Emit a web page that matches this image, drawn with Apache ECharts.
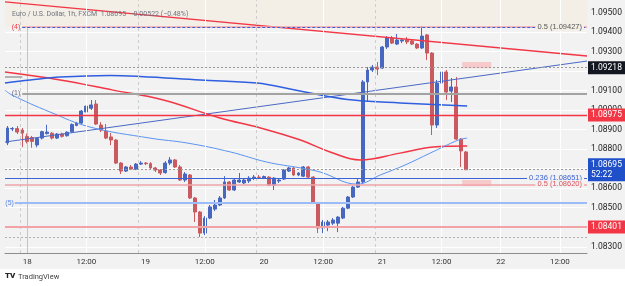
<!DOCTYPE html>
<html>
<head>
<meta charset="utf-8">
<script src="https://cdn.jsdelivr.net/npm/echarts@6/dist/echarts.min.js"></script>
<style>
  html, body { margin: 0; padding: 0; background: #fff; }
  #chart { width: 625px; height: 286px; }
</style>
</head>
<body>
<div id="chart"></div>
<script>
// hour 0 = 18th 00:00, first candle is hour -4
const firstHour = -4;
const lastAxisHour = 113;

// [open, close, low, high] per hour
const ohlc = [
  [1.08832, 1.08909, 1.08821, 1.08919], [1.08904, 1.08906, 1.08893, 1.08914],
  [1.08906, 1.08888, 1.08878, 1.08919], [1.08898, 1.08883, 1.08811, 1.08909],
  [1.08865, 1.08840, 1.08830, 1.08880], [1.08860, 1.08840, 1.08808, 1.08868],
  [1.08822, 1.08855, 1.08810, 1.08860], [1.08857, 1.08890, 1.08850, 1.08895],
  [1.08880, 1.08888, 1.08875, 1.08925], [1.08882, 1.08857, 1.08850, 1.08888],
  [1.08857, 1.08878, 1.08852, 1.08883], [1.08878, 1.08866, 1.08860, 1.08885],
  [1.08869, 1.08887, 1.08865, 1.08892], [1.08890, 1.08927, 1.08885, 1.08932],
  [1.08922, 1.08934, 1.08918, 1.08940], [1.08934, 1.08996, 1.08930, 1.09001],
  [1.08991, 1.09021, 1.08986, 1.09032], [1.09010, 1.09027, 1.09001, 1.09052],
  [1.09032, 1.08929, 1.08924, 1.09052], [1.08924, 1.08898, 1.08888, 1.08939],
  [1.08893, 1.08857, 1.08852, 1.08929], [1.08863, 1.08847, 1.08821, 1.08883],
  [1.08847, 1.08729, 1.08724, 1.08852], [1.08729, 1.08688, 1.08673, 1.08734],
  [1.08688, 1.08709, 1.08683, 1.08714], [1.08709, 1.08698, 1.08693, 1.08719],
  [1.08698, 1.08724, 1.08693, 1.08729], [1.08724, 1.08729, 1.08719, 1.08739],
  [1.08729, 1.08726, 1.08719, 1.08734], [1.08726, 1.08704, 1.08698, 1.08734],
  [1.08704, 1.08693, 1.08683, 1.08709], [1.08693, 1.08678, 1.08668, 1.08698],
  [1.08680, 1.08729, 1.08675, 1.08739], [1.08729, 1.08745, 1.08719, 1.08760],
  [1.08745, 1.08709, 1.08704, 1.08750], [1.08709, 1.08642, 1.08637, 1.08719],
  [1.08642, 1.08673, 1.08632, 1.08683], [1.08668, 1.08550, 1.08545, 1.08673],
  [1.08550, 1.08478, 1.08427, 1.08555], [1.08478, 1.08370, 1.08350, 1.08483],
  [1.08370, 1.08447, 1.08360, 1.08457], [1.08447, 1.08504, 1.08442, 1.08514],
  [1.08493, 1.08514, 1.08483, 1.08540], [1.08514, 1.08550, 1.08509, 1.08560],
  [1.08550, 1.08632, 1.08545, 1.08662], [1.08632, 1.08591, 1.08586, 1.08637],
  [1.08591, 1.08642, 1.08586, 1.08647], [1.08632, 1.08642, 1.08627, 1.08678],
  [1.08627, 1.08642, 1.08621, 1.08652], [1.08637, 1.08652, 1.08627, 1.08662],
  [1.08652, 1.08657, 1.08642, 1.08668], [1.08657, 1.08655, 1.08647, 1.08668],
  [1.08652, 1.08660, 1.08647, 1.08665], [1.08657, 1.08616, 1.08611, 1.08662],
  [1.08616, 1.08652, 1.08591, 1.08657], [1.08637, 1.08642, 1.08627, 1.08652],
  [1.08647, 1.08693, 1.08642, 1.08698], [1.08688, 1.08704, 1.08683, 1.08709],
  [1.08704, 1.08668, 1.08662, 1.08709], [1.08668, 1.08678, 1.08662, 1.08683],
  [1.08662, 1.08709, 1.08657, 1.08714], [1.08709, 1.08657, 1.08652, 1.08714],
  [1.08657, 1.08524, 1.08519, 1.08662], [1.08524, 1.08396, 1.08370, 1.08529],
  [1.08396, 1.08427, 1.08370, 1.08437], [1.08411, 1.08427, 1.08380, 1.08437],
  [1.08421, 1.08437, 1.08411, 1.08447], [1.08421, 1.08452, 1.08375, 1.08457],
  [1.08447, 1.08498, 1.08442, 1.08504], [1.08498, 1.08555, 1.08493, 1.08560],
  [1.08555, 1.08606, 1.08550, 1.08611], [1.08606, 1.08632, 1.08601, 1.08647],
  [1.08632, 1.09145, 1.08621, 1.09155], [1.09145, 1.09206, 1.09042, 1.09221],
  [1.09206, 1.09221, 1.09196, 1.09232], [1.09221, 1.09211, 1.09180, 1.09247],
  [1.09216, 1.09324, 1.09211, 1.09329], [1.09324, 1.09370, 1.09314, 1.09380],
  [1.09370, 1.09344, 1.09339, 1.09380], [1.09339, 1.09360, 1.09334, 1.09391],
  [1.09355, 1.09360, 1.09344, 1.09370], [1.09360, 1.09350, 1.09339, 1.09375],
  [1.09355, 1.09339, 1.09334, 1.09365], [1.09339, 1.09319, 1.09314, 1.09344],
  [1.09319, 1.09380, 1.09314, 1.09432], [1.09386, 1.09293, 1.09257, 1.09391],
  [1.09293, 1.08924, 1.08873, 1.09298], [1.08924, 1.09139, 1.08909, 1.09155],
  [1.09139, 1.09196, 1.09129, 1.09237], [1.09196, 1.09093, 1.09052, 1.09206],
  [1.09098, 1.09119, 1.09042, 1.09165], [1.09119, 1.08852, 1.08847, 1.09170],
  [1.08852, 1.08791, 1.08709, 1.08857], [1.08786, 1.08695, 1.08693, 1.08791]
];

// time axis labels
const tickHours = [0, 12, 24, 36, 48, 60, 72, 84, 96, 108];
const tickLabels = ['18', '12:00', '19', '12:00', '20', '12:00', '21', '12:00', '22', '12:00'];
const sessionHours = [-1.5, 22.5, 46.5, 70.5];

// moving averages [hour, price]
const maRed = [[-4.5, 1.09196], [6.7, 1.09155], [17.4, 1.09103], [27.6, 1.09052], [39.1, 1.08960],
  [47.3, 1.08909], [55.4, 1.08847], [61.4, 1.08786], [67.5, 1.08745], [75.6, 1.08780],
  [82.3, 1.08811], [89.2, 1.08816]];
const maBlue = [[-4.5, 1.09140], [0.6, 1.09155], [6.7, 1.09170], [16.8, 1.09178], [22.9, 1.09173],
  [35.1, 1.09155], [46.6, 1.09139], [53.3, 1.09109], [59.4, 1.09078], [66.1, 1.09052],
  [75.6, 1.09037], [89.2, 1.09021]];
const maLight = [[-4.5, 1.09103], [-3.1, 1.09078], [4.6, 1.08991], [12.7, 1.08914], [24.9, 1.08857],
  [32.4, 1.08832], [41.2, 1.08786], [48.6, 1.08734], [55.4, 1.08704], [59.4, 1.08683],
  [66.9, 1.08621], [71.6, 1.08668], [76.6, 1.08719], [81.7, 1.08780], [87.4, 1.08847], [89.2, 1.08857]];

// trend lines
const trendDown = [[-4.5, 1.09555], [113.5, 1.09278]];
const trendUp = [[-4.5, 1.08837], [113.5, 1.09252]];

// horizontal levels
const fibTop = 1.09427;
const highDash = 1.09218;
const grayLevel = 1.09086;
const grayStub = 1.09170;
const redLevel = 1.08975;
const lastPrice = 1.08695;
const fib236 = 1.08651;
const fib50 = 1.08620;
const blueLevel = 1.08524;
const lowLevel = 1.08401;
const lowDash = 1.08350;
const zoneA = [1.09216, 1.09247];
const zoneB = [1.08611, 1.08642];
const zoneHours = [88.2, 94.1];

const yMin = 1.08268, yMax = 1.09565;

const categories = [];
for (let h = firstHour; h <= lastAxisHour; h++) categories.push(String(h));

const chart = echarts.init(document.getElementById('chart'), null, { renderer: 'canvas' });

function box(text, bg) {
  return {
    show: true, position: 'end', distance: 1, formatter: text,
    backgroundColor: bg, color: '#fff', fontSize: 8.5, padding: [2, 4, 1, 3],
    fontFamily: 'Roboto, sans-serif', lineHeight: 10
  };
}
// full-width level from the left edge to the right edge of the plot
function level(v, color, width, type, label) {
  return [
    { coord: [-4.5, v], lineStyle: { color: color, width: width, type: type }, label: label || { show: false } },
    { coord: [113.5, v] }
  ];
}

const option = {
  animation: false,
  backgroundColor: '#ffffff',
  title: {
    text: 'Euro / U.S. Dollar, 1h, FXCM  1.08695  \u22120.00522 (\u22120.48%)',
    left: 7, top: 6,
    textStyle: { fontSize: 7, color: '#707380', fontWeight: 'normal', fontFamily: 'Roboto, sans-serif' }
  },
  graphic: [
    { type: 'rect', z: -10, silent: true, shape: { x: 0, y: 0, width: 625, height: 269 }, style: { fill: '#f2f2f2' } },
    { type: 'text', left: 5, top: 272, style: { text: 'TV', fontSize: 8, fontWeight: 900, fill: '#222', fontFamily: 'Roboto, sans-serif' } },
    { type: 'text', left: 18, top: 273, style: { text: 'TradingView', fontSize: 7.5, fill: '#444', fontFamily: 'Roboto, sans-serif' } }
  ],
  grid: { left: 5, right: 38, top: 0, bottom: 33, show: false },
  xAxis: [
    {
      type: 'category', data: categories, boundaryGap: true,
      axisLine: { show: true, lineStyle: { color: '#8c8c8c' } },
      axisTick: { show: false },
      splitLine: { show: false },
      axisLabel: {
        interval: (idx, val) => tickHours.indexOf(Number(val)) >= 0,
        formatter: (val) => tickLabels[tickHours.indexOf(Number(val))],
        fontSize: 8, color: '#333', margin: 5, fontFamily: 'Roboto, sans-serif'
      }
    },
    { type: 'value', min: -4.5, max: 113.5, show: false }
  ],
  yAxis: {
    type: 'value', position: 'right', scale: true,
    min: yMin, max: yMax, splitNumber: 13,
    axisLine: { show: true, lineStyle: { color: '#c4c4c4' } },
    axisTick: { show: false },
    splitLine: { lineStyle: { color: '#ffffff', width: 1 } },
    axisLabel: {
      formatter: (v) => v.toFixed(5), showMinLabel: false, showMaxLabel: false,
      fontSize: 8.5, color: '#222', margin: 4, fontFamily: 'Roboto, sans-serif'
    }
  },
  series: [
    {
      // background zones and vertical grid
      type: 'line', xAxisIndex: 1, data: [], z: 1, silent: true,
      markArea: {
        silent: true,
        data: [
          [{ yAxis: fibTop, itemStyle: { color: '#f3efe6' } }, { yAxis: yMax }],
          [{ coord: [zoneHours[0], zoneA[0]], itemStyle: { color: '#f6caca' } }, { coord: [zoneHours[1], zoneA[1]] }],
          [{ coord: [zoneHours[0], zoneB[0]], itemStyle: { color: '#f6caca' } }, { coord: [zoneHours[1], zoneB[1]] }]
        ]
      },
      markLine: {
        silent: true, symbol: 'none', label: { show: false },
        data: tickHours.filter(h => h % 24 === 12).map(h => ({ xAxis: h, lineStyle: { color: '#ffffff', width: 1, type: 'solid' } }))
          .concat(sessionHours.map(h => ({ xAxis: h, lineStyle: { color: '#cdcdcd', width: 1, type: [3, 3] } })))
          .concat([{ xAxis: 96, lineStyle: { color: '#ffffff', width: 1, type: 'solid' } }])
      }
    },
    {
      type: 'candlestick', xAxisIndex: 0, data: ohlc, z: 3, barWidth: 3.4,
      itemStyle: {
        color: '#4767c0', color0: '#c85a60',
        borderColor: '#4767c0', borderColor0: '#c85a60', borderWidth: 1
      }
    },
    {
      type: 'line', xAxisIndex: 1, data: trendDown, z: 4, showSymbol: false, silent: true,
      lineStyle: { color: '#f23645', width: 1.3 }
    },
    {
      type: 'line', xAxisIndex: 1, data: trendUp, z: 4, showSymbol: false, silent: true,
      lineStyle: { color: '#4b69c6', width: 1 }
    },
    {
      type: 'line', xAxisIndex: 1, data: maRed, z: 4, showSymbol: false, smooth: 0.4, silent: true,
      lineStyle: { color: '#f23645', width: 1.5 }
    },
    {
      type: 'line', xAxisIndex: 1, data: maBlue, z: 4, showSymbol: false, smooth: 0.4, silent: true,
      lineStyle: { color: '#2f5fe0', width: 1.5 }
    },
    {
      type: 'line', xAxisIndex: 1, data: maLight, z: 4, showSymbol: false, smooth: 0.4, silent: true,
      lineStyle: { color: '#5b93f2', width: 1 }
    },
    {
      // drawn levels
      type: 'line', xAxisIndex: 1, data: [], z: 5, silent: true,
      markLine: {
        silent: true, symbol: 'none',
        lineStyle: { type: 'solid' },
        data: [
          [{ coord: [-1, fibTop], lineStyle: { color: '#f5a3a8', width: 1.5, type: 'solid' },
             label: { show: true, position: 'start', formatter: '(4)', color: '#f23645', fontSize: 7, distance: 2 } },
           { coord: [113.5, fibTop] }],
          [{ coord: [-1, fibTop], lineStyle: { color: '#3b63d6', width: 1, type: [3, 2] },
             label: { show: true, position: 'insideEnd', formatter: '0.5 (1.09427)', color: '#555', fontSize: 7.5,
                      backgroundColor: '#f3efe6', padding: [0, 2], distance: 3 } },
           { coord: [113.5, fibTop] }],
          level(highDash, '#9a9a9a', 1, [2, 2]),
          [{ coord: [-4.5, grayStub], lineStyle: { color: '#9e9e9e', width: 1.5, type: 'solid' }, label: { show: false } },
           { coord: [-1, grayStub] }],
          [{ coord: [-1, grayLevel], lineStyle: { color: '#a3a3a3', width: 2.2, type: 'solid' },
             label: { show: true, position: 'start', formatter: '(1)', color: '#6a6a8a', fontSize: 7, distance: 2 } },
           { coord: [113.5, grayLevel] }],
          level(redLevel, '#f23645', 1.3, 'solid'),
          level(lastPrice, '#9a9a9a', 1, [2, 2]),
          level(fib236, '#3b63d6', 1.2, 'solid', { show: true, position: 'insideEnd', formatter: '0.236 (1.08651)',
            color: '#3b63d6', fontSize: 7.5, backgroundColor: '#f2f2f2', padding: [0, 2], distance: 3 }),
          level(fib50, '#f0a4a9', 1.5, 'solid', { show: true, position: 'insideEnd', formatter: '0.5 (1.08620)',
            color: '#e0505a', fontSize: 7.5, backgroundColor: '#f2f2f2', padding: [0, 2], distance: 3 }),
          [{ coord: [-2.5, blueLevel], lineStyle: { color: '#9bbcf6', width: 2, type: 'solid' },
             label: { show: true, position: 'start', formatter: '(5)', color: '#5b86e8', fontSize: 7, distance: 1 } },
           { coord: [113.5, blueLevel] }],
          level(lowLevel, '#f2a3a8', 2, 'solid'),
          level(lowDash, '#b0b0b0', 1, [2, 2])
        ]
      }
    },
    {
      // price boxes on the axis
      type: 'line', xAxisIndex: 1, data: [], z: 10, silent: true,
      markLine: {
        silent: true, symbol: 'none',
        lineStyle: { color: 'rgba(0,0,0,0)', width: 1 },
        data: [
          level(highDash, 'rgba(0,0,0,0)', 1, 'solid', box('1.09218', '#131722')),
          level(redLevel, 'rgba(0,0,0,0)', 1, 'solid', box('1.08975', '#f23645')),
          level(lastPrice, 'rgba(0,0,0,0)', 1, 'solid', box('1.08695\n52:22', '#1f4fc9')),
          level(lowLevel, 'rgba(0,0,0,0)', 1, 'solid', box('1.08401', '#f23645'))
        ]
      }
    }
  ]
};

chart.setOption(option);
</script>
</body>
</html>
